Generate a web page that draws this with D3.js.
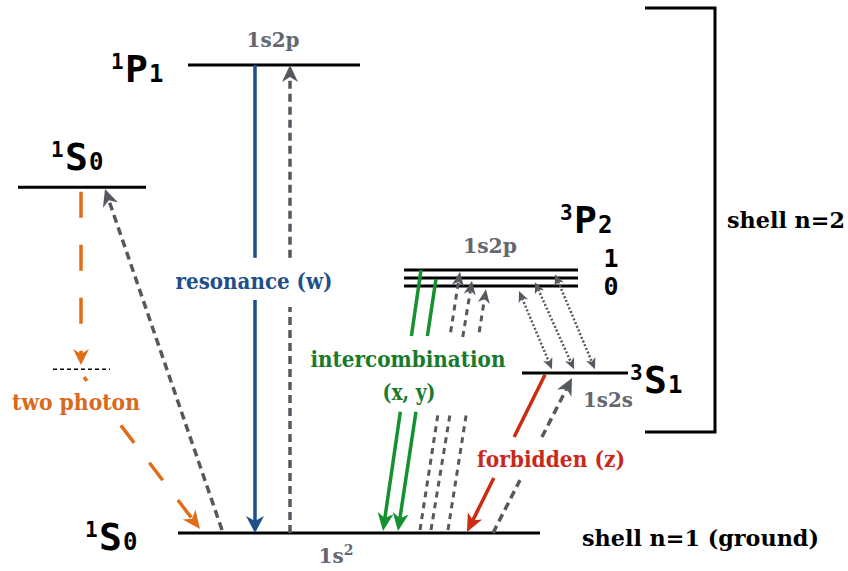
<!DOCTYPE html>
<html><head><meta charset="utf-8">
<script src="https://cdn.jsdelivr.net/npm/d3@7"></script>
<style>body{margin:0;background:#fff}svg{display:block}</style>
</head><body><svg id="c" width="848" height="571"></svg>
<script>
// ---------------- data ----------------
// energy levels (arbitrary units, ground = 0, 1P1 = 100)
const levelIds    = ["1s2 1S0", "1s2p 1P1", "1S0 (n=2)", "1s2p 3P2", "1s2p 3P1", "1s2p 3P0", "1s2s 3S1", "virtual"];
const levelEnergy = [0, 100, 73.9, 56.2, 54.5, 52.8, 34.2, 35.0];

// transitions: [x, energy] endpoints, gaps in energy where labels sit
const transNames  = ["w", "w-exc", "1S0-exc", "2ph-a", "2ph-b", "x", "y", "exc-a", "exc-b", "exc-c", "col-a", "col-b", "col-c", "z", "z-exc"];
const transFrom   = [[255,100],[290,0],[222,0.64],[81,72.9],[84,33.3],[421,56.2],[436,54.3],[420,0.64],[431,0.64],[448,0.64],[519,51.7],[535,53.6],[555,55.3],[545,33.8],[493,0]];
const transTo     = [[255,0],[290,100],[105,73.5],[81,35.9],[200,0.85],[383,0.43],[398,0.43],[460,55.8],[472,53.9],[486,52.1],[552,35.0],[574,35.0],[595,35.0],[467,0.21],[572,33.1]];
const transGaps   = [[[58.8,49.8]],[[48.3,58.8]],[],[],[[32.8,23.0]],[[42.1,25.9]],[[42.1,25.9]],[[25.9,42.9]],[[25.9,41.9]],[[25.9,42.9]],[],[],[],[[20.5,11.75]],[[11.3,20.5]]];
const transKind   = ["blue","gray","gray","orangeV","orangeD","green","green","grayS","grayS","grayS","dot","dot","dot","red","gray"];

// text
const termSup  = ["1","1","1","3","3"];
const termMain = ["P","S","S","P","S"];
const termSub  = ["1","0","0","2","1"];
const configLabels = ["1s2p","1s2p","1s2s","1s"];
const processLabels = ["resonance (w)","intercombination","(x, y)","two photon","forbidden (z)"];
const shellLabels = ["shell n=2","shell n=1 (ground)"];

// ---------------- layout ----------------
const svg = d3.select("#c");
const x = d3.scaleLinear().domain([0, 848]).range([0, 848]);
const y = d3.scaleLinear().domain([0, 100]).range([533, 65]);

const levelSpan = [[178,540],[188,360],[18,146],[404,578],[404,578],[404,578],[522,628],[53,110]];

const styles = {
  blue:    {c:"#1d4f8b", w:3.5, dash:null,    head:[17,9,5],  both:false},
  gray:    {c:"#55595f", w:3.5, dash:"8,5",   head:[17,8,5],  both:false},
  orangeV: {c:"#e06d17", w:3.5, dash:"26,27", head:[16,8,5],  both:false},
  orangeD: {c:"#e06d17", w:3.5, dash:"22,25", head:[18,8,5],  both:false},
  green:   {c:"#15922f", w:3.5, dash:null,    head:[18,8,5],  both:false},
  grayS:   {c:"#55595f", w:3,   dash:"6,5",   head:[14,6,4],  both:false},
  dot:     {c:"#55595f", w:2.5, dash:"2,2",   head:[11,5,3],  both:true},
  red:     {c:"#cc2b12", w:3.5, dash:null,    head:[18,8,5],  both:false}
};

// levels
const gL = svg.append("g");
levelEnergy.forEach((e, i) => {
  const virt = levelIds[i] === "virtual";
  gL.append("line")
    .attr("x1", x(levelSpan[i][0])).attr("x2", x(levelSpan[i][1]))
    .attr("y1", y(e)).attr("y2", y(e))
    .attr("stroke", "#000")
    .attr("stroke-width", virt ? 1.6 : 3)
    .attr("stroke-dasharray", virt ? "4,3" : null);
});

// bracket for shell n=2
svg.append("path")
  .attr("d", `M${x(645)},${y(112.2)} H${x(715)} V${y(21.6)} H${x(645)}`)
  .attr("fill", "none").attr("stroke", "#000").attr("stroke-width", 3);

// arrows
function headPath(tip, u, L, Wd, n) {
  const px = -u[1], py = u[0];
  const b = [tip[0] - u[0]*L, tip[1] - u[1]*L];
  const m = [tip[0] - u[0]*(L-n), tip[1] - u[1]*(L-n)];
  return `M${tip[0]},${tip[1]} L${b[0]+px*Wd},${b[1]+py*Wd} L${m[0]},${m[1]} L${b[0]-px*Wd},${b[1]-py*Wd} Z`;
}
const gA = svg.append("g");
transNames.forEach((nm, i) => {
  const s = styles[transKind[i]];
  const [L, Wd, n] = s.head;
  const f = transFrom[i], t = transTo[i];
  const P0 = [x(f[0]), y(f[1])], P1 = [x(t[0]), y(t[1])];
  const dx = P1[0]-P0[0], dy = P1[1]-P0[1];
  const len = Math.hypot(dx, dy);
  const u = [dx/len, dy/len];
  const tEnd = 1 - (L - n)/len;
  const tStart = s.both ? (L - n)/len : 0;
  const cuts = transGaps[i].map(g => g.map(e => (e - f[1])/(t[1] - f[1])).sort((a,b)=>a-b));
  let segs = [], cur = tStart;
  cuts.forEach(c => { segs.push([cur, c[0]]); cur = c[1]; });
  segs.push([cur, tEnd]);
  if (transKind[i] === "orangeD") segs = [[0, 0.025], [cuts[0][1], tEnd]];
  segs.forEach(sg => {
    gA.append("line")
      .attr("x1", P0[0] + dx*sg[0]).attr("y1", P0[1] + dy*sg[0])
      .attr("x2", P0[0] + dx*sg[1]).attr("y2", P0[1] + dy*sg[1])
      .attr("stroke", s.c).attr("stroke-width", s.w)
      .attr("stroke-dasharray", s.dash);
  });
  gA.append("path").attr("d", headPath(P1, u, L, Wd, n)).attr("fill", s.c);
  if (s.both) gA.append("path").attr("d", headPath(P0, [-u[0], -u[1]], L, Wd, n)).attr("fill", s.c);
});

// term labels
const mono = "'DejaVu Sans Mono', monospace";
const termPos = [[111, 82], [51, 170], [85, 550], [560, 233], [630, 393]];
const gT = svg.append("g").attr("font-family", mono).attr("font-weight", "bold").attr("fill", "#000");
termMain.forEach((m, i) => {
  const [tx, ty] = termPos[i];
  gT.append("text").attr("x", tx).attr("y", ty - 13).attr("font-size", 21).text(termSup[i]);
  gT.append("text").attr("x", tx + 14).attr("y", ty).attr("font-size", 38).text(m);
  gT.append("text").attr("x", tx + 38).attr("y", ty).attr("font-size", 24).text(termSub[i]);
});
["1", "0"].forEach((j, k) => {
  gT.append("text").attr("x", 611).attr("y", 267 + 28*k).attr("text-anchor", "middle")
    .attr("font-size", 25).text(j);
});

// configuration labels
const serif = "'DejaVu Serif', serif";
const cfgPos = [[273, 47], [490, 253], [608, 407], [336, 563]];
const cfgLen = [53, 54, 50, 0];
configLabels.forEach((c, i) => {
  const t = svg.append("text").attr("x", cfgPos[i][0]).attr("y", cfgPos[i][1])
    .attr("text-anchor", "middle").attr("font-family", serif).attr("font-weight", "bold")
    .attr("font-size", 20).attr("fill", "#64686e").text(c);
  if (cfgLen[i]) t.attr("textLength", cfgLen[i]).attr("lengthAdjust", "spacingAndGlyphs");
  if (i === 3) t.append("tspan").attr("dy", -8).attr("font-size", 14).text("2");
});

// process labels
const procPos = [[254, 289], [408, 367], [409, 400], [76, 410], [551, 467]];
const procLen = [157, 195, 53, 128, 148];
const procCol = ["#1f4f8a", "#197a2c", "#197a2c", "#d9691c", "#c9291a"];
processLabels.forEach((p, i) => {
  svg.append("text").attr("x", procPos[i][0]).attr("y", procPos[i][1])
    .attr("text-anchor", "middle").attr("font-family", serif).attr("font-weight", "bold")
    .attr("font-size", 21.5).attr("fill", procCol[i])
    .attr("textLength", procLen[i]).attr("lengthAdjust", "spacingAndGlyphs").text(p);
});

// shell labels
const shellPos = [[727, 228], [582, 546]];
const shellLen = [118, 237];
shellLabels.forEach((s, i) => {
  svg.append("text").attr("x", shellPos[i][0]).attr("y", shellPos[i][1])
    .attr("font-family", serif).attr("font-weight", "bold")
    .attr("font-size", 23).attr("fill", "#000")
    .attr("textLength", shellLen[i]).attr("lengthAdjust", "spacingAndGlyphs").text(s);
});
</script></body></html>
